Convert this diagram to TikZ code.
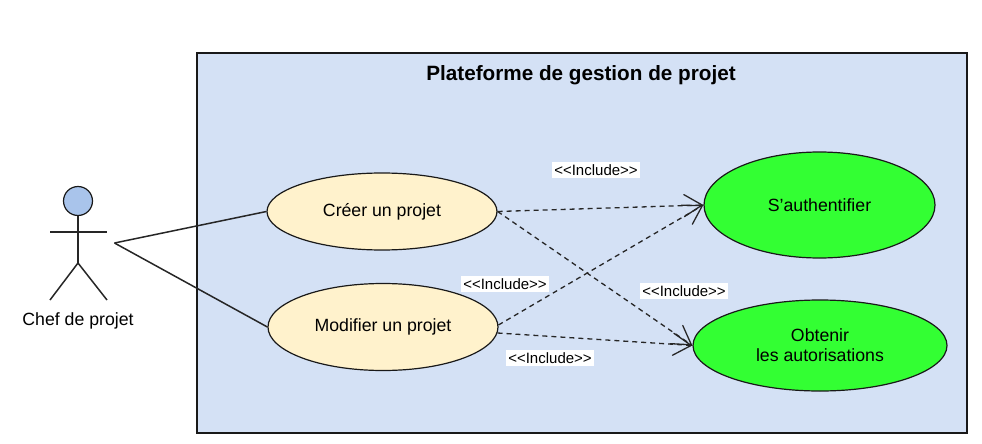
\documentclass[tikz,border=0pt]{standalone}
\usepackage{fontspec}
\setmainfont{Liberation Sans}
\usetikzlibrary{arrows.meta,shapes.geometric}

\definecolor{cadrebleu}{HTML}{D4E1F5}
\definecolor{creme}{HTML}{FFF2CC}
\definecolor{vert}{HTML}{33FF33}
\definecolor{tete}{HTML}{A9C4EB}

\tikzset{
  usecase/.style={ellipse, draw=black!90, line width=1.2pt, inner sep=0pt, align=center, font=\fontsize{17.7}{20}\selectfont},
  incl/.style={fill=white, inner sep=2pt, font=\fontsize{15}{18}\selectfont},
  inclarrow/.style={->, line width=1.3pt, dash pattern=on 5pt off 4pt, draw=black!85},
  assoc/.style={line width=1.5pt, draw=black!85}
}

\begin{document}
\begin{tikzpicture}[x=1pt, y=-1pt, >={Straight Barb[length=18pt, width=22pt, line cap=round]}]
\useasboundingbox (0,0) rectangle (982,444);

% Le cadre du systeme
\node[rectangle, draw=black!90, line width=1.1pt, fill=cadrebleu, minimum width=770pt, minimum height=380pt, inner sep=0pt] (cadre) at (582,243) {};
\node[font=\bfseries\fontsize{20.7}{24}\selectfont] (titre) at (581,75) {Plateforme de gestion de projet};

% L'acteur
\node[circle, draw=black!90, line width=1.2pt, fill=tete, minimum size=29pt, inner sep=0pt] (tete) at (78,201) {};
\coordinate (bassin) at (78,263);
\coordinate (brasG) at (50,232);
\coordinate (brasD) at (107,232);
\coordinate (piedG) at (50,300);
\coordinate (piedD) at (107,300);
\coordinate (port) at (114.5,243);
\draw[assoc] (tete) -- (bassin);
\draw[assoc] (brasG) -- (brasD);
\draw[assoc] (piedG) -- (bassin) -- (piedD);
\node[font=\fontsize{17.7}{20}\selectfont] (chef) at (78,321) {Chef de projet};

% Les cas d'utilisation
\node[usecase, fill=creme, minimum width=230pt, minimum height=77pt] (creer) at (382,211.5) {Créer un projet};
\node[usecase, fill=creme, minimum width=230pt, minimum height=87pt] (modifier) at (383,327) {Modifier un projet};
\node[usecase, fill=vert, minimum width=231pt, minimum height=106pt] (auth) at (819.5,205) {S'authentifier};
\node[usecase, fill=vert, minimum width=254pt, minimum height=91pt] (autor) at (820,345.5) {Obtenir\\les autorisations};

% Les associations
\draw[assoc] (port) -- (creer.west);
\draw[assoc] (port) -- (modifier.west);

% Les inclusions
\draw[inclarrow] (creer.east) -- (auth.west);
\draw[inclarrow] (creer.east) -- (autor.west);
\draw[inclarrow] (modifier.1) -- (auth.west);
\draw[inclarrow] (modifier.-3) -- (autor.west);

% Les etiquettes
\node[incl] (inclA) at (596,170) {<{}<Include>{}>};
\node[incl] (inclB) at (505,284) {<{}<Include>{}>};
\node[incl] (inclC) at (684,291) {<{}<Include>{}>};
\node[incl] (inclD) at (550,358) {<{}<Include>{}>};

\end{tikzpicture}
\end{document}
